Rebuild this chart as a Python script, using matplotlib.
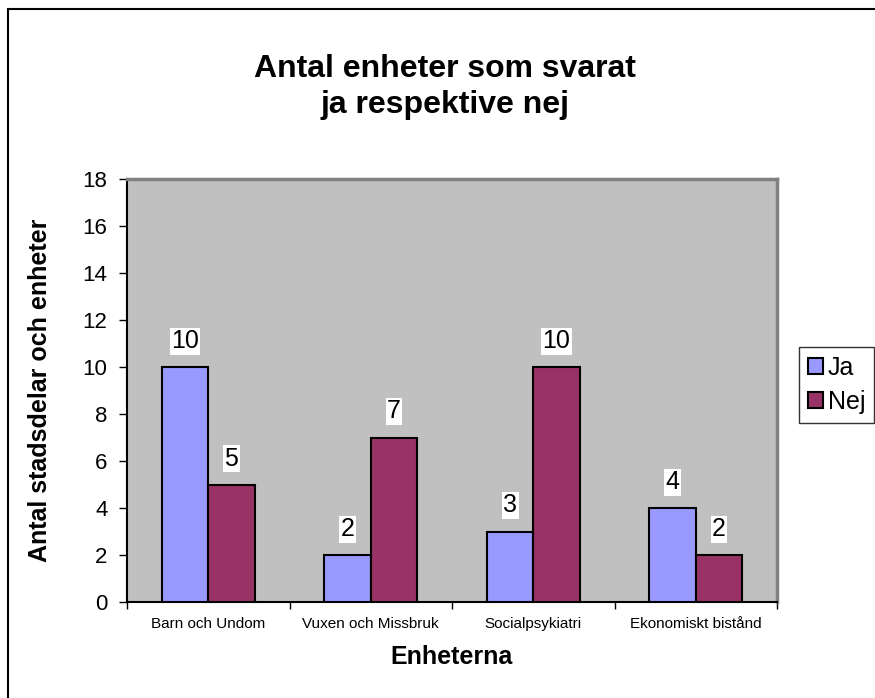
import matplotlib
matplotlib.use("Agg")
from matplotlib import pyplot as plt
from matplotlib.patches import Rectangle
import numpy as np

plt.rcParams['font.family'] = ['Liberation Sans', 'DejaVu Sans']

categories = ["Barn och Undom", "Vuxen och Missbruk", "Socialpsykiatri", "Ekonomiskt bistånd"]
ja = [10, 2, 3, 4]
nej = [5, 7, 10, 2]
yticks = list(range(0, 19, 2))

fig = plt.figure(figsize=(8.75, 6.98), dpi=100)
fig.patches.append(Rectangle((8 / 875, -0.1), 1.2, (698 - 9) / 698 + 0.1,
                             transform=fig.transFigure, fill=False,
                             edgecolor="black", linewidth=1.5))

ax = fig.add_axes([127 / 875, 1 - 602 / 698, 650 / 875, 423 / 698])
ax.set_facecolor("#C0C0C0")

x = np.arange(len(categories))
w = 1 / 3.5
b1 = ax.bar(x - w / 2, ja, w, color="#9999FF", edgecolor="black", linewidth=1.5, label="Ja", zorder=3)
b2 = ax.bar(x + w / 2, nej, w, color="#993366", edgecolor="black", linewidth=1.5, label="Nej", zorder=3)

for bars in (b1, b2):
    for rect in bars:
        h = rect.get_height()
        ax.annotate(str(int(h)), (rect.get_x() + rect.get_width() / 2, h),
                    xytext=(0, 26), textcoords="offset pixels",
                    ha="center", va="center", fontsize=18,
                    bbox=dict(facecolor="white", edgecolor="none", pad=1))

ax.set_xlim(-0.5, len(categories) - 0.5)
ax.set_ylim(0, 18)
ax.set_yticks(yticks)
ax.tick_params(axis="y", labelsize=16, length=6, width=1, direction="out", pad=8)
ax.set_xticks(x)
ax.set_xticklabels(categories, fontsize=11)
ax.tick_params(axis="x", which="major", length=0, pad=11)
ax.set_xticks(np.arange(-0.5, len(categories), 1), minor=True)
ax.tick_params(axis="x", which="minor", length=5, width=1, direction="out")

for s in ("top", "right"):
    ax.spines[s].set_color("#808080")
    ax.spines[s].set_linewidth(2.5)
for s in ("left", "bottom"):
    ax.spines[s].set_color("black")
    ax.spines[s].set_linewidth(1.5)

ax.set_ylabel("Antal stadsdelar och enheter", fontsize=18, fontweight="bold", labelpad=22)
ax.set_xlabel("Enheterna", fontsize=18, fontweight="bold", labelpad=10)

fig.text(445 / 875, 1 - 87 / 698, "Antal enheter som svarat\nja respektive nej",
         ha="center", va="center", fontsize=23, fontweight="bold", linespacing=1.25)

leg = fig.legend(handles=[b1, b2], loc="upper left", bbox_to_anchor=(799 / 875, 1 - 347 / 698),
                 fontsize=18, frameon=True, fancybox=False, handlelength=0.6, handleheight=0.6,
                 handletextpad=0.2, borderpad=0.35, labelspacing=0.4, borderaxespad=0)
leg.get_frame().set_edgecolor("black")
leg.get_frame().set_linewidth(1)

fig.savefig("out.png", dpi=100)
